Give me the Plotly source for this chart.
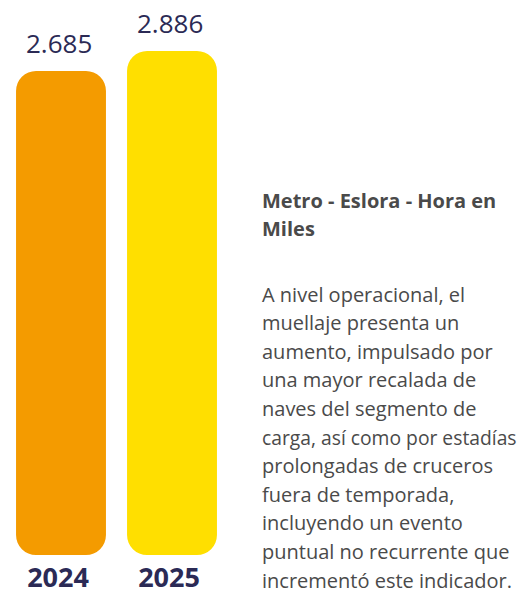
import plotly.graph_objects as go

# ---- data ----
years = ["2024", "2025"]
values = [2.685, 2.886]
value_labels = ["2.685", "2.886"]
bar_colors = ["#F49B00", "#FFDF00"]

title_lines = ["<b>Metro - Eslora - Hora en</b>", "<b>Miles</b>"]
body_lines = [
    "A nivel operacional, el",
    "muellaje presenta un",
    "aumento, impulsado por",
    "una mayor recalada de",
    "naves del segmento de",
    "carga, así como por estadías",
    "prolongadas de cruceros",
    "fuera de temporada,",
    "incluyendo un evento",
    "puntual no recurrente que",
    "incrementó este indicador.",
]

# ---- layout constants ----
OFF = 8                      # page body margin of the browser
W, H = 529 - OFF, 595 - OFF
MB = 40
AXIS_FLOOR = -2.179
AXIS_CEIL = 3.318
NAVY = "#2B2A55"
GREY = "#4A4A4A"
FONT = "Open Sans"

fig = go.Figure()
fig.add_trace(go.Bar(
    x=years, y=[v - AXIS_FLOOR for v in values], base=AXIS_FLOOR,
    marker=dict(color=bar_colors, line=dict(width=0)),
    hoverinfo="skip", showlegend=False,
))

annotations = []
for i, (v, lab) in enumerate(zip(values, value_labels)):
    annotations.append(dict(
        x=i, y=v, xref="x", yref="y", text=lab, showarrow=False,
        yanchor="middle", xanchor="center", yshift=28, xshift=-2,
        height=26,
        font=dict(family=FONT, size=26, color=NAVY),
    ))


def py(p):
    # screen pixel (reference) -> paper fraction of the plot area
    return 1 - (p - OFF) / (H - MB)


text_x = (259.5 - OFF) / W
for i, t in enumerate(title_lines):
    annotations.append(dict(
        x=text_x, y=py(201 + 28 * i), xref="paper", yref="paper", text=t,
        showarrow=False, xanchor="left", yanchor="middle", align="left",
        font=dict(family=FONT, size=20, color=GREY),
    ))
for i, t in enumerate(body_lines):
    size = 19.3 if len(t) > 26 else 20
    annotations.append(dict(
        x=text_x, y=py(294 + 28.6 * i), xref="paper", yref="paper", text=t,
        showarrow=False, xanchor="left", yanchor="middle", align="left",
        font=dict(family=FONT, size=size, color=GREY),
    ))

fig.update_layout(
    width=W, height=H,
    margin=dict(l=0, r=0, t=0, b=MB),
    paper_bgcolor="white", plot_bgcolor="white",
    bargap=0.19, barcornerradius=20,
    annotations=annotations,
    xaxis=dict(
        type="category", range=[-53 / 111, 1.5],
        domain=[0, 219.5 / W], showgrid=False, zeroline=False,
        showline=False, ticks="", ticklabelstandoff=4, ticklabelshift=-3,
        tickfont=dict(family=FONT, size=27, color=NAVY, weight="bold"),
        fixedrange=True,
    ),
    yaxis=dict(
        range=[AXIS_FLOOR, AXIS_CEIL], visible=False, showgrid=False,
        zeroline=False, fixedrange=True,
    ),
)

fig.write_html("out.html")
